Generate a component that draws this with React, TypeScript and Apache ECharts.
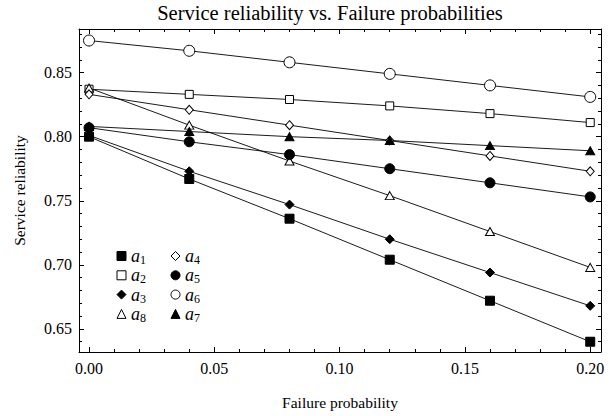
import React, { useEffect, useRef } from 'react';
import * as echarts from 'echarts';

const FONT = '"Liberation Serif", "Times New Roman", Times, serif';

// Data
const xValues = [0, 0.04, 0.08, 0.12, 0.16, 0.2];
const a1 = [0.8, 0.767, 0.736, 0.704, 0.672, 0.64];
const a2 = [0.837, 0.833, 0.829, 0.824, 0.818, 0.811];
const a3 = [0.801, 0.773, 0.747, 0.72, 0.694, 0.668];
const a4 = [0.833, 0.821, 0.809, 0.797, 0.785, 0.773];
const a5 = [0.807, 0.796, 0.786, 0.775, 0.764, 0.753];
const a6 = [0.875, 0.867, 0.858, 0.849, 0.84, 0.831];
const a7 = [0.808, 0.804, 0.8, 0.797, 0.793, 0.789];
const a8 = [0.838, 0.809, 0.781, 0.754, 0.726, 0.698];

const xMajorTicks = [0, 0.05, 0.1, 0.15, 0.2];
const yMajorTicks = [0.65, 0.7, 0.75, 0.8, 0.85];
const xMinorTicks = [
  0, 0.01, 0.02, 0.03, 0.04, 0.05, 0.06, 0.07, 0.08, 0.09, 0.1, 0.11, 0.12, 0.13,
  0.14, 0.15, 0.16, 0.17, 0.18, 0.19, 0.2,
];
const yMinorTicks = [
  0.64, 0.65, 0.66, 0.67, 0.68, 0.69, 0.7, 0.71, 0.72, 0.73, 0.74, 0.75, 0.76, 0.77,
  0.78, 0.79, 0.8, 0.81, 0.82, 0.83, 0.84, 0.85, 0.86, 0.87, 0.88,
];

const X_MIN = -0.004;
const X_MAX = 0.2043;
const Y_MIN = 0.632;
const Y_MAX = 0.884;

type Def = { name: string; data: number[]; symbol: string; size: number | number[]; filled: boolean };
const seriesDefs: Def[] = [
  { name: 'a1', data: a1, symbol: 'rect', size: 9, filled: true },
  { name: 'a2', data: a2, symbol: 'rect', size: 8, filled: false },
  { name: 'a3', data: a3, symbol: 'diamond', size: [9, 9], filled: true },
  { name: 'a8', data: a8, symbol: 'triangle', size: [9, 8], filled: false },
  { name: 'a4', data: a4, symbol: 'diamond', size: [8, 9], filled: false },
  { name: 'a5', data: a5, symbol: 'circle', size: 10, filled: true },
  { name: 'a6', data: a6, symbol: 'circle', size: 11, filled: false },
  { name: 'a7', data: a7, symbol: 'triangle', size: [9, 8], filled: true },
];

const legendCol1 = ['a1', 'a2', 'a3', 'a8'];
const legendCol2 = ['a4', 'a5', 'a6', 'a7'];

function App() {
  const ref = useRef<HTMLDivElement>(null);
  useEffect(() => {
    if (!ref.current) return;
    const chart = echarts.init(ref.current, undefined, { renderer: 'svg' });
    const defOf = (n: string) => seriesDefs.find((d) => d.name === n)!;
    const legendItem = (n: string) => {
      const d = defOf(n);
      return {
        name: n,
        icon: d.symbol,
        itemStyle: { color: d.filled ? '#000' : '#fff', borderColor: '#000', borderWidth: 1 },
      };
    };
    const rich = {
      a: { fontFamily: FONT, fontStyle: 'italic', fontSize: 18, lineHeight: 20, color: '#000' },
      s: { fontFamily: FONT, fontSize: 12, lineHeight: 12, verticalAlign: 'bottom', color: '#000' },
    };
    const legendBase = {
      orient: 'vertical',
      itemWidth: 9,
      itemHeight: 9,
      itemGap: 0.3,
      selectedMode: false,
      formatter: (n: string) => `{a|a}{s|${n.slice(1)}}`,
      textStyle: { rich },
    };
    const lblStyle = { fontFamily: FONT, fontSize: 16, color: '#000' };
    const axisLineStyle = { color: '#000', width: 1 };
    const xAxisCommon = { type: 'value', min: X_MIN, max: X_MAX, splitLine: { show: false } };
    const yAxisCommon = { type: 'value', min: Y_MIN, max: Y_MAX, splitLine: { show: false } };
    const option: any = {
      animation: false,
      backgroundColor: '#fff',
      graphic: [
        {
          type: 'text',
          x: 330,
          y: 13,
          style: {
            text: 'Service reliability vs. Failure probabilities',
            fontFamily: FONT,
            fontSize: 20.5,
            fill: '#000',
            textAlign: 'center',
            textVerticalAlign: 'middle',
          },
        },
      ],
      grid: { left: 79, right: 13, top: 29, bottom: 64 },
      legend: [
        { ...legendBase, left: 111.5, top: 242, data: legendCol1.map(legendItem) },
        { ...legendBase, left: 165.5, top: 242, data: legendCol2.map(legendItem) },
      ],
      xAxis: [
        {
          ...xAxisCommon,
          position: 'bottom',
          axisLine: { show: true, onZero: false, lineStyle: axisLineStyle },
          axisTick: { show: true, inside: true, length: 5, customValues: xMajorTicks, lineStyle: axisLineStyle },
          axisLabel: { ...lblStyle, margin: 8, customValues: xMajorTicks, formatter: (v: number) => v.toFixed(2) },
          name: 'Failure probability',
          nameLocation: 'middle',
          nameGap: 42,
          nameTextStyle: { fontFamily: FONT, fontSize: 15.5, color: '#000' },
        },
        {
          ...xAxisCommon,
          position: 'bottom',
          axisLine: { show: false, onZero: false },
          axisTick: { show: true, inside: true, length: 3, customValues: xMinorTicks, lineStyle: axisLineStyle },
          axisLabel: { show: false },
        },
        {
          ...xAxisCommon,
          position: 'top',
          axisLine: { show: true, onZero: false, lineStyle: axisLineStyle },
          axisTick: { show: true, inside: true, length: 5, customValues: xMajorTicks, lineStyle: axisLineStyle },
          axisLabel: { show: false },
        },
        {
          ...xAxisCommon,
          position: 'top',
          axisLine: { show: false, onZero: false },
          axisTick: { show: true, inside: true, length: 3, customValues: xMinorTicks, lineStyle: axisLineStyle },
          axisLabel: { show: false },
        },
      ],
      yAxis: [
        {
          ...yAxisCommon,
          position: 'left',
          axisLine: { show: true, onZero: false, lineStyle: axisLineStyle },
          axisTick: { show: true, inside: true, length: 5, customValues: yMajorTicks, lineStyle: axisLineStyle },
          axisLabel: { ...lblStyle, margin: 7, customValues: yMajorTicks, formatter: (v: number) => v.toFixed(2) },
          name: 'Service reliability',
          nameLocation: 'middle',
          nameGap: 52,
          nameTextStyle: { fontFamily: FONT, fontSize: 15.5, color: '#000' },
        },
        {
          ...yAxisCommon,
          position: 'left',
          axisLine: { show: false, onZero: false },
          axisTick: { show: true, inside: true, length: 3, customValues: yMinorTicks, lineStyle: axisLineStyle },
          axisLabel: { show: false },
        },
        {
          ...yAxisCommon,
          position: 'right',
          axisLine: { show: true, onZero: false, lineStyle: axisLineStyle },
          axisTick: { show: true, inside: true, length: 5, customValues: yMajorTicks, lineStyle: axisLineStyle },
          axisLabel: { show: false },
        },
        {
          ...yAxisCommon,
          position: 'right',
          axisLine: { show: false, onZero: false },
          axisTick: { show: true, inside: true, length: 3, customValues: yMinorTicks, lineStyle: axisLineStyle },
          axisLabel: { show: false },
        },
      ],
      series: seriesDefs.map((d) => ({
        name: d.name,
        type: 'line',
        xAxisIndex: 0,
        yAxisIndex: 0,
        data: xValues.map((x, i) => [x, d.data[i]]),
        symbol: d.symbol,
        symbolSize: d.size,
        showSymbol: true,
        silent: true,
        itemStyle: { color: d.filled ? '#000' : '#fff', borderColor: '#000', borderWidth: 1 },
        lineStyle: { color: '#000', width: 0.9 },
        emphasis: { disabled: true },
      })),
    };
    chart.setOption(option);
    return () => chart.dispose();
  }, []);
  return (
    <div
      ref={ref}
      style={{ position: 'absolute', left: 0, top: 0, width: 614, height: 416, background: '#fff' }}
    />
  );
}

export default App;
